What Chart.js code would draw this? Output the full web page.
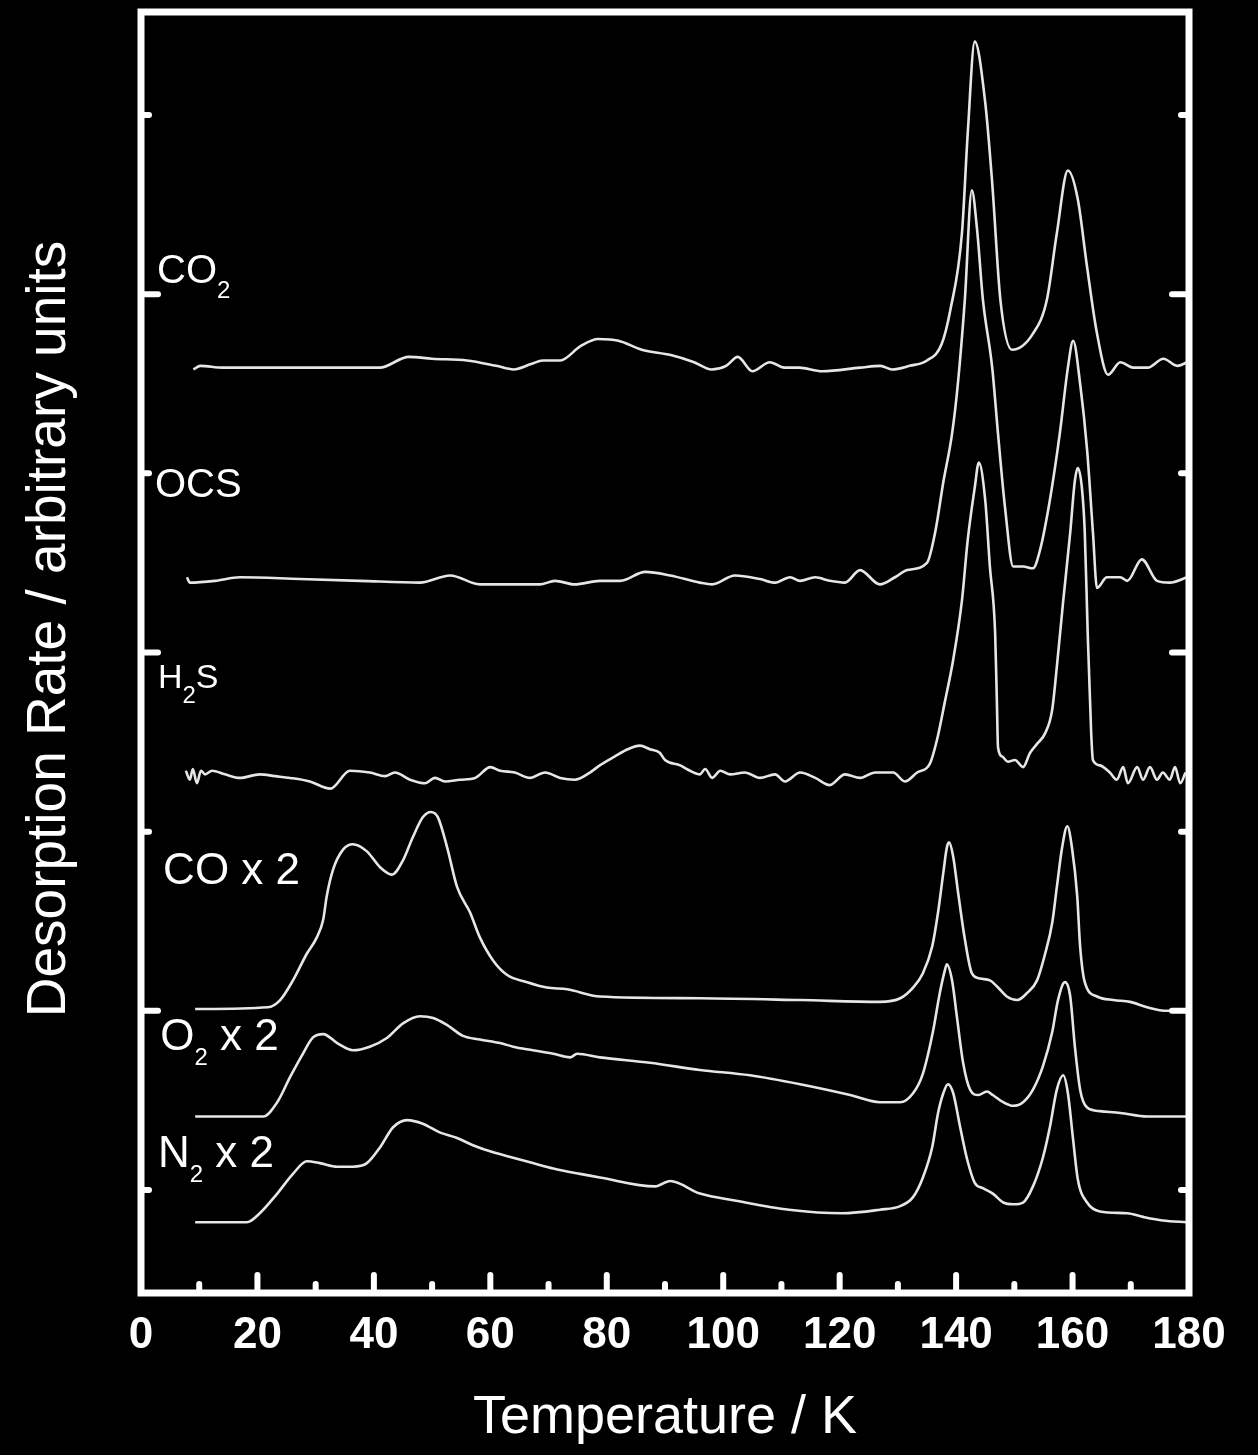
<!DOCTYPE html>
<html>
<head>
<meta charset="utf-8">
<script src="https://cdn.jsdelivr.net/npm/chart.js@4.4.1/dist/chart.umd.min.js"></script>
<style>
  html, body { margin: 0; padding: 0; background: #000; }
  canvas { display: block; }
</style>
</head>
<body>
<canvas id="tpd" width="1258" height="1455"></canvas>
<script>
// TPD traces: temperature (K) and desorption rate (arb. units, traces offset vertically)
var co2Temp = [9.0,10.2,14,25,35,41,46,50,56,61,64,67,69,72,75.5,78.5,82,86,91,95,98,100.5,102.5,105,108,110.5,113,117,123.5,127,129,132,135,137.5,139,141,142,143.2,145,146.2,147.6,149.6,153.2,155.6,157.3,159.2,160.9,162.5,164.2,166.1,168.2,170.4,172.9,175.6,178,179.7];
var co2Rate = [55.8,56.0,55.9,55.9,55.9,55.9,56.5,56.4,56.3,56.0,55.8,56.1,56.3,56.3,57.1,57.5,57.4,56.9,56.6,56.2,55.8,56.0,56.5,55.7,56.2,55.9,55.9,55.7,55.9,56.0,55.8,56.0,56.3,57.2,59.1,63.4,69.0,74.1,70.7,66.2,59.7,56.9,57.8,59.7,63.4,66.9,65.3,61.5,57.8,55.5,56.2,55.9,55.9,56.4,56.0,56.2];

var ocsTemp = [7.9,8.4,12.7,17.0,27.3,37.6,47.9,53.1,58.2,68.5,71.1,74.5,78.8,82.3,86.6,90.9,96.0,98.1,102.0,106.3,108.9,111.5,113.2,115.8,118.3,120.9,123.5,126.9,129.5,131.6,135.0,136.4,137.8,139.3,140.3,141.5,142.7,143.6,144.6,146.2,147.2,148.4,149.8,151.5,153.2,154.4,156.1,157.8,159.2,160.1,161.3,162.5,163.5,164.2,165.9,168.2,169.4,171.9,174.5,176.7,179.7];
var ocsRate = [44.2,43.9,44.0,44.2,44.1,44.0,43.9,44.3,43.8,43.8,44.0,43.8,44.0,44.0,44.5,44.3,43.9,43.8,44.3,44.1,43.9,44.2,44.0,44.2,44.0,43.9,44.6,43.8,44.2,44.6,45.0,46.7,49.5,52.2,55.0,59.7,65.8,63.6,59.7,55.9,52.2,48.1,44.8,44.8,44.7,45.7,48.5,52.2,55.9,57.4,55.0,51.3,46.7,43.6,44.2,44.2,44.0,45.2,44.0,43.9,44.2];

var h2sTemp = [7.7,8.4,8.9,9.6,10.3,11.0,12.2,14.4,17.0,20.4,23.0,25.6,29.0,32.5,35.9,39.3,41.9,43.6,46.2,48.8,50.5,52.2,54.8,57.4,60.0,61.7,64.2,66.8,69.4,72.0,74.5,77.1,78.8,81.4,83.6,85.7,87.4,89.1,90.0,92.6,94.3,96.0,96.9,98.1,99.5,101.2,103.7,106.3,108.9,110.6,113.2,115.8,118.3,120.9,123.5,126.1,129.2,131.2,133.3,135.5,136.7,138.1,139.5,141.0,142.0,143.2,143.9,145.0,145.8,146.7,147.0,147.2,147.9,148.9,150.1,151.5,152.7,153.9,155.3,156.5,157.3,158.4,159.6,160.4,160.9,161.6,162.1,162.6,163.2,163.5,164.7,166.4,167.6,168.7,169.5,171.1,172.1,173.3,174.5,175.5,176.7,177.6,178.5,179.4];
var h2sRate = [33.4,32.9,33.5,32.7,33.4,33.2,33.4,33.2,33.0,33.2,33.1,33.0,32.8,32.4,33.4,33.3,33.1,33.3,32.9,32.7,33.0,32.8,32.9,33.0,33.6,33.4,33.3,33.0,33.3,33.0,32.9,33.3,33.7,34.2,34.6,34.8,34.6,34.4,34.0,33.7,33.4,33.2,33.5,33.0,33.4,33.2,33.3,33.0,33.2,32.8,33.3,33.0,32.6,33.2,33.0,33.3,33.3,32.8,33.3,33.8,35.1,37.3,39.6,42.9,46.3,49.2,50.6,48.5,44.8,41.1,37.3,34.7,34.2,33.9,34.0,33.6,34.4,34.9,35.5,36.8,39.2,42.9,46.7,49.6,50.3,49.2,46.7,41.1,35.5,34.0,33.7,33.3,32.9,33.6,32.7,33.6,32.9,33.6,32.9,33.3,32.9,33.6,32.7,33.3];

var coTemp = [9.3,21.8,23.9,26.1,28.5,30.2,31.3,31.9,33.0,34.7,36.4,38.8,41.1,43.1,45.0,46.7,48.4,49.8,51.0,52.6,54.3,56.5,58.2,60.5,62.9,66.3,69.7,73.2,78.8,96.0,113.2,126.9,130.4,132.6,134.3,135.9,136.9,137.8,138.4,138.8,139.5,140.3,141.5,142.7,144.1,145.8,147.2,148.7,150.5,152.2,153.9,155.3,156.5,157.3,158.2,159.1,159.9,160.8,161.3,162.1,164.2,167.0,169.9,172.8,176.2,179.7];
var coRate = [20.1,20.2,20.6,21.7,23.2,24.1,25.1,26.4,27.9,29.0,29.3,28.9,28.0,27.6,28.4,29.7,30.8,31.1,30.8,29.1,26.9,25.5,24.1,22.8,22.0,21.6,21.3,21.2,20.8,20.7,20.6,20.5,20.7,21.3,22.1,23.6,25.5,27.7,29.1,29.4,28.6,26.7,24.0,22.1,21.8,21.7,21.3,20.8,20.6,21.0,21.7,23.2,24.9,26.9,29.1,30.3,29.1,26.4,23.6,21.6,20.8,20.6,20.5,20.2,20.0,20.0];

var o2Temp = [9.3,21.0,23.4,25.6,27.8,29.5,31.3,33.7,36.4,39.3,42.3,45.0,47.9,50.2,52.6,55.3,58.2,61.7,63.9,67.3,70.8,73.7,74.9,78.8,87.4,96.0,104.6,113.2,121.8,126.9,130.4,132.6,134.3,136.0,137.2,138.1,138.4,139.3,140.2,141.2,142.4,143.8,145.3,146.3,148.1,149.8,151.5,153.2,154.9,156.5,157.5,158.7,159.6,160.4,161.3,162.5,164.7,168.2,172.8,179.7];
var o2Rate = [14.1,14.1,14.9,16.3,17.6,18.5,18.7,18.2,17.8,18.0,18.5,19.3,19.7,19.6,19.2,18.6,18.4,18.2,18.0,17.8,17.6,17.4,17.6,17.4,17.1,16.7,16.4,15.9,15.3,14.9,14.9,15.4,16.5,18.8,21.0,22.3,22.6,21.7,19.5,17.1,15.6,15.3,15.5,15.3,14.9,14.7,14.9,15.6,16.9,18.8,20.6,21.6,20.8,18.0,15.6,14.6,14.4,14.3,14.1,14.1];

var n2Temp = [9.3,18.2,20.4,23.4,26.1,28.5,30.7,33.7,36.4,38.8,41.1,43.3,45.7,48.4,51.4,54.3,57.0,60.5,63.9,67.3,70.8,75.4,78.8,88.3,90.9,96.0,102.2,111.3,120.4,126.9,130.4,132.6,134.3,135.9,136.9,137.8,138.6,139.5,140.7,141.9,143.2,144.6,146.3,148.1,149.8,151.5,153.2,154.9,156.1,157.3,158.4,159.2,160.1,160.9,162.5,164.7,169.4,172.1,175.5,179.7];
var n2Rate = [8.2,8.2,8.7,9.8,10.9,11.6,11.5,11.3,11.3,11.5,12.4,13.5,13.9,13.7,13.2,12.9,12.5,12.1,11.8,11.5,11.2,10.9,10.7,10.2,10.5,9.8,9.4,8.9,8.7,8.9,9.1,9.6,10.7,12.4,14.3,15.4,15.9,15.4,13.5,11.7,10.4,10.1,9.8,9.3,9.2,9.3,10.2,11.8,13.5,15.6,16.4,15.4,12.8,10.6,9.3,8.8,8.7,8.5,8.3,8.2];

var traceNames = ['CO2', 'OCS', 'H2S', 'CO x 2', 'O2 x 2', 'N2 x 2'];
// where each name sits: temperature of its left edge, rate at its baseline
var nameTemp = [2.75, 2.4, 2.9, 3.8, 3.3, 2.9];
var nameRate = [60.6, 48.7, 38.0, 27.1, 17.8, 11.3];
var nameSize = [40, 40, 34, 44, 44, 44];

var tempTicks = [0, 20, 40, 60, 80, 100, 120, 140, 160, 180];
var tempMinorTicks = [10, 20, 30, 40, 50, 60, 70, 80, 90, 100, 110, 120, 130, 140, 150, 160, 170];
var rateTicks = [10, 20, 30, 40, 50, 60, 70];

var xTitle = 'Temperature / K';
var yTitle = 'Desorption Rate / arbitrary units';

var FONT = '"Liberation Sans", Arial, Helvetica, sans-serif';

function pts(xs, ys) {
    var out = [];
    for (var i = 0; i < xs.length; i++) {
        out.push({x: xs[i], y: ys[i]});
    }
    return out;
}

function trace(name, xs, ys) {
    return {
        label: name,
        data: pts(xs, ys),
        borderColor: '#e6e6e6',
        borderWidth: 2.6,
        pointRadius: 0,
        fill: false,
        cubicInterpolationMode: 'monotone'
    };
}

// frame with inward ticks, trace names and the vertical axis title
var framePlugin = {
    id: 'frame',
    afterDatasetsDraw: function(chart) {
        var ctx = chart.ctx;
        var a = chart.chartArea;
        var xs = chart.scales.x;
        var ys = chart.scales.y;
        ctx.save();
        ctx.strokeStyle = '#fff';
        ctx.lineWidth = 7;
        ctx.strokeRect(a.left, a.top, a.right - a.left, a.bottom - a.top);

        ctx.lineWidth = 6;
        ctx.lineCap = 'round';
        tempMinorTicks.forEach(function(t) {
            var px = xs.getPixelForValue(t);
            var len = (t % 20 === 0) ? 18 : 9;
            ctx.beginPath();
            ctx.moveTo(px, a.bottom);
            ctx.lineTo(px, a.bottom - len);
            ctx.stroke();
        });
        rateTicks.forEach(function(v) {
            var py = ys.getPixelForValue(v);
            var len = (v % 20 === 0) ? 17 : 8;
            ctx.beginPath();
            ctx.moveTo(a.left, py);
            ctx.lineTo(a.left + len, py);
            ctx.stroke();
            ctx.beginPath();
            ctx.moveTo(a.right, py);
            ctx.lineTo(a.right - len, py);
            ctx.stroke();
        });

        // names, digits right after a letter become subscripts
        ctx.fillStyle = '#fff';
        ctx.textBaseline = 'alphabetic';
        ctx.textAlign = 'left';
        traceNames.forEach(function(name, i) {
            var x = xs.getPixelForValue(nameTemp[i]);
            var y = ys.getPixelForValue(nameRate[i]);
            for (var k = 0; k < name.length; k++) {
                var ch = name[k];
                var sub = /[0-9]/.test(ch) && k > 0 && /[A-Za-z]/.test(name[k - 1]);
                ctx.font = (sub ? 24 : nameSize[i]) + 'px ' + FONT;
                ctx.fillText(ch, x, sub ? y + 15 : y);
                x += ctx.measureText(ch).width;
            }
        });

        ctx.font = '55px ' + FONT;
        ctx.textAlign = 'center';
        ctx.textBaseline = 'middle';
        ctx.translate(50, 629);
        ctx.rotate(-Math.PI / 2);
        ctx.fillText(yTitle, 0, 0);
        ctx.restore();
    }
};

new Chart(document.getElementById('tpd'), {
    type: 'line',
    data: {
        datasets: [
            trace('CO2', co2Temp, co2Rate),
            trace('OCS', ocsTemp, ocsRate),
            trace('H2S', h2sTemp, h2sRate),
            trace('CO x 2', coTemp, coRate),
            trace('O2 x 2', o2Temp, o2Rate),
            trace('N2 x 2', n2Temp, n2Rate)
        ]
    },
    options: {
        responsive: false,
        animation: false,
        devicePixelRatio: 1,
        layout: { padding: { top: 12, right: 69, left: 0, bottom: 0 } },
        plugins: {
            legend: { display: false },
            tooltip: { enabled: false }
        },
        scales: {
            x: {
                type: 'linear',
                min: 0,
                max: 180,
                afterBuildTicks: function(scale) {
                    scale.ticks = tempTicks.map(function(v) { return {value: v}; });
                },
                afterFit: function(scale) { scale.height = 162; },
                grid: { display: false, drawTicks: false },
                border: { display: false },
                ticks: {
                    color: '#fff',
                    padding: 16,
                    autoSkip: false,
                    maxRotation: 0,
                    font: { family: FONT, size: 44, weight: 'bold' }
                },
                title: {
                    display: true,
                    text: xTitle,
                    color: '#fff',
                    padding: { top: 0, bottom: 4 },
                    font: { family: FONT, size: 54 }
                }
            },
            y: {
                type: 'linear',
                min: 4.25,
                max: 75.75,
                afterBuildTicks: function(scale) {
                    scale.ticks = rateTicks.map(function(v) { return {value: v}; });
                },
                afterFit: function(scale) { scale.width = 141; },
                grid: { display: false, drawTicks: false },
                border: { display: false },
                ticks: { display: false }
            }
        }
    },
    plugins: [framePlugin]
});
</script>
</body>
</html>
